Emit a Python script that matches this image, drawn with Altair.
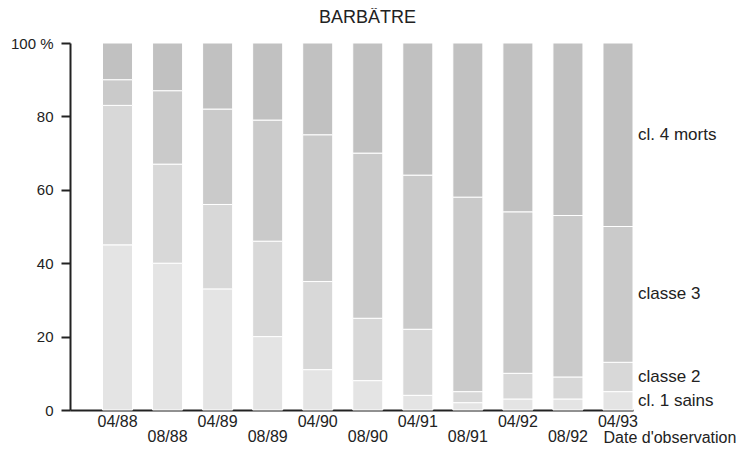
import altair as alt
import pandas as pd

dates = ["04/88", "08/88", "04/89", "08/89", "04/90", "08/90",
         "04/91", "08/91", "04/92", "08/92", "04/93"]
classes = ["cl. 1 sains", "classe 2", "classe 3", "cl. 4 morts"]
cl1 = [45, 40, 33, 20, 11, 8, 4, 2, 3, 3, 5]
cl2 = [38, 27, 23, 26, 24, 17, 18, 3, 7, 6, 8]
cl3 = [7, 20, 26, 33, 40, 45, 42, 53, 44, 44, 37]
cl4 = [10, 13, 18, 21, 25, 30, 36, 42, 46, 47, 50]
colors = ["#e4e4e4", "#d8d8d8", "#cacaca", "#c1c1c1"]

series = [cl1, cl2, cl3, cl4]
rows = []
for ci, (cname, vals) in enumerate(zip(classes, series)):
    for d, v in zip(dates, vals):
        rows.append({"date": d, "classe": cname, "ordre": ci, "pct": v})
df = pd.DataFrame(rows)

# labels at the middle of each segment of the last bar
last = dates[-1]
cum = 0
lab_rows = []
for cname, vals in zip(classes, series):
    v = vals[-1]
    lab_rows.append({"date": last, "classe": cname, "mid": cum + v / 2})
    cum += v
labs = pd.DataFrame(lab_rows)

xl = pd.DataFrame({"date": dates, "row": [i % 2 for i in range(len(dates))]})

W, H = 563, 367
FONT = "Liberation Sans"
TXT = "#222222"

xscale = alt.Scale(domain=dates, paddingInner=0.4, paddingOuter=0.325, align=1)
yscale = alt.Scale(domain=[0, 100])

bars = alt.Chart(df).mark_bar(stroke="white", strokeWidth=1).encode(
    x=alt.X("date:N", scale=xscale, sort=dates,
            axis=alt.Axis(labels=False, ticks=False, domain=True,
                          domainColor=TXT, domainWidth=2,
                          title="Date d'observation", titleX=533, titleY=32,
                          titleAlign="left", titleBaseline="alphabetic",
                          titleFont=FONT, titleFontSize=16,
                          titleFontWeight="normal", titleColor=TXT)),
    y=alt.Y("pct:Q", stack="zero", scale=yscale,
            axis=alt.Axis(values=[0, 20, 40, 60, 80, 100], title=None,
                          grid=False, domainColor=TXT, domainWidth=2,
                          tickColor=TXT, tickWidth=2, tickSize=9,
                          labelFont=FONT, labelFontSize=15, labelColor=TXT,
                          labelPadding=8,
                          labelExpr="datum.value == 100 ? '100 %' : datum.label")),
    color=alt.Color("classe:N", scale=alt.Scale(domain=classes, range=colors),
                    legend=None),
    order=alt.Order("ordre:Q"),
)

side = alt.Chart(labs).mark_text(align="left", baseline="middle", dx=20,
                                 font=FONT, fontSize=17, color=TXT).encode(
    x=alt.X("date:N", scale=xscale, sort=dates),
    y=alt.Y("mid:Q", scale=yscale),
    text="classe:N",
)

xlab_top = alt.Chart(xl).transform_filter("datum.row == 0").mark_text(
    baseline="alphabetic", font=FONT, fontSize=16, color=TXT).encode(
    x=alt.X("date:N", scale=xscale, sort=dates),
    y=alt.value(H + 17),
    text="date:N",
)
xlab_bot = alt.Chart(xl).transform_filter("datum.row == 1").mark_text(
    baseline="alphabetic", font=FONT, fontSize=16, color=TXT).encode(
    x=alt.X("date:N", scale=xscale, sort=dates),
    y=alt.value(H + 32),
    text="date:N",
)

chart = alt.layer(bars, side, xlab_top, xlab_bot).properties(
    width=W, height=H,
    title=alt.TitleParams("BARBÂTRE", font=FONT, fontSize=18,
                          fontWeight="normal", color=TXT, anchor="middle",
                          offset=9, dx=16),
    autosize=alt.AutoSizeParams(type="none"),
    padding={"left": 62, "top": 35, "right": 109, "bottom": 35},
).configure(background="white").configure_view(stroke=None)

chart.save("out.html", embed_options={"renderer": "svg", "actions": False})
